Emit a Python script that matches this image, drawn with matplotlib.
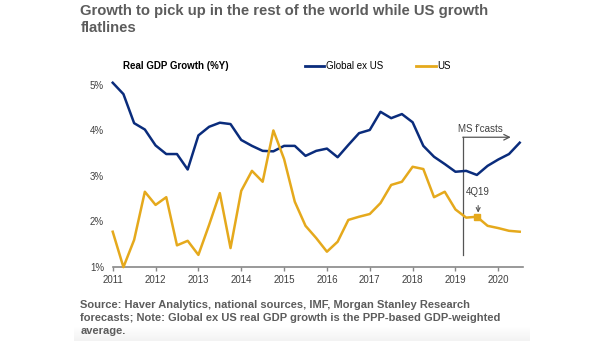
import matplotlib
matplotlib.use("Agg")
import matplotlib.pyplot as plt
from matplotlib.lines import Line2D
import numpy as np

plt.rcParams['font.family'] = ['Liberation Sans', 'DejaVu Sans']

# quarterly real GDP growth, %Y, 1Q11 .. 3Q20 (last quarters are forecasts)
start_year = 2011
global_ex_us = [5.05, 4.80, 4.16, 4.02, 3.67, 3.48, 3.48, 3.14,
                3.89, 4.08, 4.17, 4.14, 3.79, 3.66, 3.55, 3.54,
                3.66, 3.66, 3.44, 3.55, 3.60, 3.41, 3.68, 3.94,
                4.01, 4.41, 4.27, 4.36, 4.18, 3.66, 3.42, 3.26,
                3.09, 3.11, 3.02, 3.22, 3.36, 3.48, 3.73]
us = [1.77, 0.99, 1.59, 2.65, 2.36, 2.53, 1.47, 1.57,
      1.26, 1.92, 2.62, 1.41, 2.67, 3.11, 2.87, 4.00,
      3.37, 2.43, 1.90, 1.63, 1.33, 1.55, 2.03, 2.10,
      2.16, 2.40, 2.80, 2.87, 3.20, 3.15, 2.53, 2.65,
      2.26, 2.08, 2.10, 1.90, 1.85, 1.79, 1.77]
years = list(range(2011, 2021))
y_ticks = [1, 2, 3, 4, 5]
y_labels = ["1%", "2%", "3%", "4%", "5%"]

forecast_start = 2019.17
marker_idx = 34  # 4Q19 point on the US line

title = "Growth to pick up in the rest of the world while US growth\nflatlines"
source = ("Source: Haver Analytics, national sources, IMF, Morgan Stanley Research\n"
          "forecasts; Note: Global ex US real GDP growth is the PPP-based GDP-weighted\n"
          "average.")

NAVY = "#0a2c7c"
GOLD = "#e5a91c"
GREY = "#555555"
TEXT = "#404040"

x = start_year + np.arange(len(us)) * 0.25

fig = plt.figure(figsize=(6.05, 3.41), dpi=100)
ax = fig.add_axes([0.1863, 0.2179, 0.6777, 0.5861])

ax.plot(x, global_ex_us, color=NAVY, lw=1.8, clip_on=False, zorder=3)
ax.plot(x, us, color=GOLD, lw=1.8, clip_on=False, zorder=3)
ax.plot(x[marker_idx], us[marker_idx], marker="s", ms=4.5, color=GOLD,
        clip_on=False, zorder=4)

ax.set_xlim(2011, 2020.57)
ax.set_ylim(1, 5.4)
ax.set_xticks(years)
ax.set_xticklabels([str(y) for y in years])
ax.set_yticks(y_ticks)
ax.set_yticklabels(y_labels)

for side in ["top", "right", "left"]:
    ax.spines[side].set_visible(False)
ax.spines["bottom"].set_color("#888888")
ax.spines["bottom"].set_linewidth(1.2)
ax.tick_params(axis="x", length=3, width=1, color="#888888", pad=3,
               labelsize=7, labelcolor=TEXT)
ax.tick_params(axis="y", length=0, pad=6.3, labelsize=7, labelcolor=TEXT)

# forecast marker: vertical line with arrow to the right
ax.plot([forecast_start, forecast_start], [1.26, 3.85], color=GREY, lw=0.9,
        zorder=2)
ax.annotate("", xy=(2020.29, 3.85), xytext=(forecast_start, 3.85),
            arrowprops=dict(arrowstyle="->", color=GREY, lw=0.9,
                            shrinkA=0, shrinkB=0))
ax.text(2019.05, 4.03, "MS f'casts", fontsize=7, color=TEXT,
        ha="left", va="center")

ax.annotate("4Q19", xy=(x[marker_idx] + 0.03, 2.19),
            xytext=(x[marker_idx] + 0.03, 2.64),
            fontsize=7, color=TEXT, ha="center", va="center",
            arrowprops=dict(arrowstyle="->", color=GREY, lw=0.8,
                            shrinkA=4, shrinkB=0))

# header and legend above the plot area
fig.text(122.7 / 605, 1 - 66 / 341, "Real GDP Growth (%Y)", fontsize=7,
         fontweight="bold", color="black", ha="left", va="center")
handles = [Line2D([], [], color=NAVY, lw=2), Line2D([], [], color=GOLD, lw=2)]
fig.legend(handles, ["Global ex US", "US"], loc="center left",
           bbox_to_anchor=(305 / 605, 1 - 66 / 341), ncol=2, frameon=False,
           fontsize=7, handlelength=2.0, handletextpad=0.15,
           columnspacing=3.4, borderpad=0, borderaxespad=0)

fig.text(80.5 / 605, 1 - 4 / 341, title, fontsize=10.7, fontweight="bold",
         color="#5c5c5c", ha="left", va="top", linespacing=1.25)
fig.text(80.5 / 605, 1 - 300 / 341, source, fontsize=8, fontweight="bold",
         color="#5c5c5c", ha="left", va="top", linespacing=1.38)

# faint grey band under the note
band = fig.add_axes([74 / 605, 0, (530 - 74) / 605, 15 / 341], zorder=-1)
grad = np.linspace(1.0, 0.95, 30).reshape(-1, 1)
band.imshow(grad, aspect="auto", cmap="gray", vmin=0, vmax=1,
            extent=[0, 1, 0, 1], origin="upper")
band.axis("off")

fig.savefig("out.png", dpi=100)
